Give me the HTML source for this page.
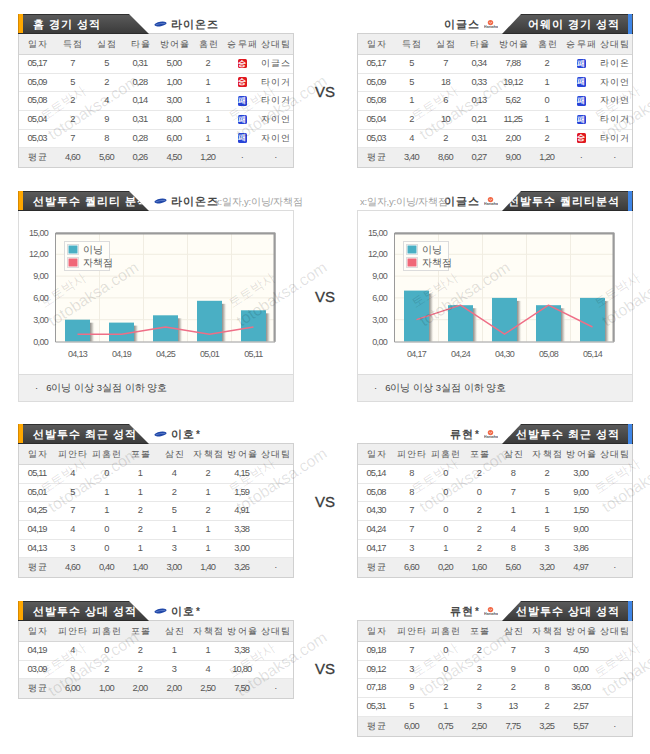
<!DOCTYPE html>
<html><head><meta charset="utf-8"><title>Starting pitcher stats</title>
<style>
*{margin:0;padding:0;box-sizing:border-box}
html,body{width:650px;height:754px;overflow:hidden;background:#fff}
body{position:relative;font-family:"Liberation Sans",sans-serif;color:#444}
.hl,.hr{position:absolute;height:20px;color:#fff;font-weight:bold;font-size:11px;line-height:20px;
 background:linear-gradient(#2f2f2f 0,#2f2f2f 1px,#5a5a5a 1px,#3b3b3b 19px,#2b2b2b 19px)}
.hl{left:18px;width:131px;clip-path:polygon(0 0,111px 0,131px 100%,0 100%)}
.hl:before{content:"";position:absolute;left:0;top:0;width:5px;height:19px;background:#ffa700;box-shadow:inset 1px 0 0 #d88a00}
.hl span{position:absolute;left:15px;top:0;white-space:nowrap;letter-spacing:1px}
.hr{left:502px;width:131px;clip-path:polygon(19px 0,131px 0,131px 100%,0 100%)}
.hr:after{content:"";position:absolute;right:1px;top:0;width:4px;height:20px;background:#3f86e6}
.hr span{position:absolute;right:13px;top:0;white-space:nowrap;letter-spacing:1px}
.tb{position:absolute;width:276px;border:1px solid #d0d0d0;background:#fff}
.hrw{position:absolute;width:274px;background:#efefef}
.avg{position:absolute;width:274px;background:#efefef}
.ln{position:absolute;width:274px;height:1px;background:#e8e8e8}
.ln2{position:absolute;width:274px;height:1px;background:#d6d6d6}
.c{position:absolute;width:40px;text-align:center;font-size:9.3px;color:#555;white-space:nowrap;letter-spacing:-0.8px;text-indent:-0.8px}
.c.th{color:#555}
.c.k{letter-spacing:1.2px;text-indent:1.2px}
.bw,.bl{display:inline-block;width:9px;height:9.5px;border-radius:1.5px;font-style:normal;color:#fff;font-size:8px;font-weight:bold;line-height:9.5px;text-align:center;vertical-align:middle;letter-spacing:0;margin-top:0;position:relative;left:0.5px;top:0}
.bw{background:#e01820}
.bl{background:#2844d8}
.vs{position:absolute;left:315px;width:22px;font-size:15px;color:#3a3a3a;line-height:15px;letter-spacing:0;-webkit-text-stroke:0.3px #3a3a3a}
.lg{position:absolute}
.tn{position:absolute;height:14px;font-size:10.5px;line-height:14px;color:#474747;font-weight:bold;white-space:nowrap;letter-spacing:1px}
.tn small{font-size:10px;font-weight:bold;vertical-align:0;margin-left:1px}
.xy{position:absolute;height:13px;line-height:13px;color:#a0a0a0;font-size:9.5px;white-space:nowrap;letter-spacing:-0.2px}
.cb{position:absolute;width:276px;height:192px;border:1px solid #dcdcdc;background:#fff}
.ch{position:absolute;overflow:visible}
.yl{font-family:"Liberation Sans",sans-serif;font-size:9px;fill:#606060;letter-spacing:-0.7px}
.lt{font-family:"Liberation Sans",sans-serif;font-size:9.5px;fill:#555}
.cf{position:absolute;width:276px;height:28px;border:1px solid #dcdcdc;background:#f0f0f0;font-size:9.5px;line-height:26px;color:#444;padding-left:16px}
.cf .dot{margin-right:8px}
.wmk{position:absolute;left:0;top:0;pointer-events:none}
.w1,.w2{font-family:"Liberation Sans",sans-serif;font-size:16px;fill:#000;fill-opacity:0.12}
.w1{font-size:13px}
</style></head>
<body>
<div class="tb" style="left:18px;top:33px;height:135.35px"></div>
<div class="hrw" style="left:19px;top:34px;height:20px"></div>
<div class="ln2" style="left:19px;top:54px"></div>
<div class="c th k" style="left:17.50px;top:34px;height:20px;line-height:20px">일자</div>
<div class="c th k" style="left:52.80px;top:34px;height:20px;line-height:20px">득점</div>
<div class="c th k" style="left:86.80px;top:34px;height:20px;line-height:20px">실점</div>
<div class="c th k" style="left:120.30px;top:34px;height:20px;line-height:20px">타율</div>
<div class="c th k" style="left:154.30px;top:34px;height:20px;line-height:20px">방어율</div>
<div class="c th k" style="left:188.20px;top:34px;height:20px;line-height:20px">홈런</div>
<div class="c th k" style="left:222.20px;top:34px;height:20px;line-height:20px">승무패</div>
<div class="c th k" style="left:255.70px;top:34px;height:20px;line-height:20px">상대팀</div>
<div class="c" style="left:17.50px;top:55.00px;height:17.67px;line-height:17.67px">05,17</div>
<div class="c" style="left:52.80px;top:55.00px;height:17.67px;line-height:17.67px">7</div>
<div class="c" style="left:86.80px;top:55.00px;height:17.67px;line-height:17.67px">5</div>
<div class="c" style="left:120.30px;top:55.00px;height:17.67px;line-height:17.67px">0,31</div>
<div class="c" style="left:154.30px;top:55.00px;height:17.67px;line-height:17.67px">5,00</div>
<div class="c" style="left:188.20px;top:55.00px;height:17.67px;line-height:17.67px">2</div>
<div class="c" style="left:222.20px;top:55.00px;height:17.67px;line-height:17.67px"><i class="bw">승</i></div>
<div class="c k" style="left:255.70px;top:55.00px;height:17.67px;line-height:17.67px">이글스</div>
<div class="ln" style="left:19px;top:72.67px"></div>
<div class="c" style="left:17.50px;top:73.67px;height:17.67px;line-height:17.67px">05,09</div>
<div class="c" style="left:52.80px;top:73.67px;height:17.67px;line-height:17.67px">5</div>
<div class="c" style="left:86.80px;top:73.67px;height:17.67px;line-height:17.67px">2</div>
<div class="c" style="left:120.30px;top:73.67px;height:17.67px;line-height:17.67px">0,28</div>
<div class="c" style="left:154.30px;top:73.67px;height:17.67px;line-height:17.67px">1,00</div>
<div class="c" style="left:188.20px;top:73.67px;height:17.67px;line-height:17.67px">1</div>
<div class="c" style="left:222.20px;top:73.67px;height:17.67px;line-height:17.67px"><i class="bw">승</i></div>
<div class="c k" style="left:255.70px;top:73.67px;height:17.67px;line-height:17.67px">타이거</div>
<div class="ln" style="left:19px;top:91.34px"></div>
<div class="c" style="left:17.50px;top:92.34px;height:17.67px;line-height:17.67px">05,08</div>
<div class="c" style="left:52.80px;top:92.34px;height:17.67px;line-height:17.67px">2</div>
<div class="c" style="left:86.80px;top:92.34px;height:17.67px;line-height:17.67px">4</div>
<div class="c" style="left:120.30px;top:92.34px;height:17.67px;line-height:17.67px">0,14</div>
<div class="c" style="left:154.30px;top:92.34px;height:17.67px;line-height:17.67px">3,00</div>
<div class="c" style="left:188.20px;top:92.34px;height:17.67px;line-height:17.67px">1</div>
<div class="c" style="left:222.20px;top:92.34px;height:17.67px;line-height:17.67px"><i class="bl">패</i></div>
<div class="c k" style="left:255.70px;top:92.34px;height:17.67px;line-height:17.67px">타이거</div>
<div class="ln" style="left:19px;top:110.01px"></div>
<div class="c" style="left:17.50px;top:111.01px;height:17.67px;line-height:17.67px">05,04</div>
<div class="c" style="left:52.80px;top:111.01px;height:17.67px;line-height:17.67px">2</div>
<div class="c" style="left:86.80px;top:111.01px;height:17.67px;line-height:17.67px">9</div>
<div class="c" style="left:120.30px;top:111.01px;height:17.67px;line-height:17.67px">0,31</div>
<div class="c" style="left:154.30px;top:111.01px;height:17.67px;line-height:17.67px">8,00</div>
<div class="c" style="left:188.20px;top:111.01px;height:17.67px;line-height:17.67px">1</div>
<div class="c" style="left:222.20px;top:111.01px;height:17.67px;line-height:17.67px"><i class="bl">패</i></div>
<div class="c k" style="left:255.70px;top:111.01px;height:17.67px;line-height:17.67px">자이언</div>
<div class="ln" style="left:19px;top:128.68px"></div>
<div class="c" style="left:17.50px;top:129.68px;height:17.67px;line-height:17.67px">05,03</div>
<div class="c" style="left:52.80px;top:129.68px;height:17.67px;line-height:17.67px">7</div>
<div class="c" style="left:86.80px;top:129.68px;height:17.67px;line-height:17.67px">8</div>
<div class="c" style="left:120.30px;top:129.68px;height:17.67px;line-height:17.67px">0,28</div>
<div class="c" style="left:154.30px;top:129.68px;height:17.67px;line-height:17.67px">6,00</div>
<div class="c" style="left:188.20px;top:129.68px;height:17.67px;line-height:17.67px">1</div>
<div class="c" style="left:222.20px;top:129.68px;height:17.67px;line-height:17.67px"><i class="bl">패</i></div>
<div class="c k" style="left:255.70px;top:129.68px;height:17.67px;line-height:17.67px">자이언</div>
<div class="ln" style="left:19px;top:147.35px"></div>
<div class="avg" style="left:19px;top:148.35px;height:19.00px"></div>
<div class="c k" style="left:17.50px;top:148.35px;height:19.00px;line-height:19.00px">평균</div>
<div class="c" style="left:52.80px;top:148.35px;height:19.00px;line-height:19.00px">4,60</div>
<div class="c" style="left:86.80px;top:148.35px;height:19.00px;line-height:19.00px">5,60</div>
<div class="c" style="left:120.30px;top:148.35px;height:19.00px;line-height:19.00px">0,26</div>
<div class="c" style="left:154.30px;top:148.35px;height:19.00px;line-height:19.00px">4,50</div>
<div class="c" style="left:188.20px;top:148.35px;height:19.00px;line-height:19.00px">1,20</div>
<div class="c" style="left:222.20px;top:148.35px;height:19.00px;line-height:19.00px">·</div>
<div class="c" style="left:255.70px;top:148.35px;height:19.00px;line-height:19.00px">·</div>
<div class="tb" style="left:357px;top:33px;height:135.35px"></div>
<div class="hrw" style="left:358px;top:34px;height:20px"></div>
<div class="ln2" style="left:358px;top:54px"></div>
<div class="c th k" style="left:356.50px;top:34px;height:20px;line-height:20px">일자</div>
<div class="c th k" style="left:391.80px;top:34px;height:20px;line-height:20px">득점</div>
<div class="c th k" style="left:425.80px;top:34px;height:20px;line-height:20px">실점</div>
<div class="c th k" style="left:459.30px;top:34px;height:20px;line-height:20px">타율</div>
<div class="c th k" style="left:493.30px;top:34px;height:20px;line-height:20px">방어율</div>
<div class="c th k" style="left:527.20px;top:34px;height:20px;line-height:20px">홈런</div>
<div class="c th k" style="left:561.20px;top:34px;height:20px;line-height:20px">승무패</div>
<div class="c th k" style="left:594.70px;top:34px;height:20px;line-height:20px">상대팀</div>
<div class="c" style="left:356.50px;top:55.00px;height:17.67px;line-height:17.67px">05,17</div>
<div class="c" style="left:391.80px;top:55.00px;height:17.67px;line-height:17.67px">5</div>
<div class="c" style="left:425.80px;top:55.00px;height:17.67px;line-height:17.67px">7</div>
<div class="c" style="left:459.30px;top:55.00px;height:17.67px;line-height:17.67px">0,34</div>
<div class="c" style="left:493.30px;top:55.00px;height:17.67px;line-height:17.67px">7,88</div>
<div class="c" style="left:527.20px;top:55.00px;height:17.67px;line-height:17.67px">2</div>
<div class="c" style="left:561.20px;top:55.00px;height:17.67px;line-height:17.67px"><i class="bl">패</i></div>
<div class="c k" style="left:594.70px;top:55.00px;height:17.67px;line-height:17.67px">라이온</div>
<div class="ln" style="left:358px;top:72.67px"></div>
<div class="c" style="left:356.50px;top:73.67px;height:17.67px;line-height:17.67px">05,09</div>
<div class="c" style="left:391.80px;top:73.67px;height:17.67px;line-height:17.67px">5</div>
<div class="c" style="left:425.80px;top:73.67px;height:17.67px;line-height:17.67px">18</div>
<div class="c" style="left:459.30px;top:73.67px;height:17.67px;line-height:17.67px">0,33</div>
<div class="c" style="left:493.30px;top:73.67px;height:17.67px;line-height:17.67px">19,12</div>
<div class="c" style="left:527.20px;top:73.67px;height:17.67px;line-height:17.67px">1</div>
<div class="c" style="left:561.20px;top:73.67px;height:17.67px;line-height:17.67px"><i class="bl">패</i></div>
<div class="c k" style="left:594.70px;top:73.67px;height:17.67px;line-height:17.67px">자이언</div>
<div class="ln" style="left:358px;top:91.34px"></div>
<div class="c" style="left:356.50px;top:92.34px;height:17.67px;line-height:17.67px">05,08</div>
<div class="c" style="left:391.80px;top:92.34px;height:17.67px;line-height:17.67px">1</div>
<div class="c" style="left:425.80px;top:92.34px;height:17.67px;line-height:17.67px">6</div>
<div class="c" style="left:459.30px;top:92.34px;height:17.67px;line-height:17.67px">0,13</div>
<div class="c" style="left:493.30px;top:92.34px;height:17.67px;line-height:17.67px">5,62</div>
<div class="c" style="left:527.20px;top:92.34px;height:17.67px;line-height:17.67px">0</div>
<div class="c" style="left:561.20px;top:92.34px;height:17.67px;line-height:17.67px"><i class="bl">패</i></div>
<div class="c k" style="left:594.70px;top:92.34px;height:17.67px;line-height:17.67px">자이언</div>
<div class="ln" style="left:358px;top:110.01px"></div>
<div class="c" style="left:356.50px;top:111.01px;height:17.67px;line-height:17.67px">05,04</div>
<div class="c" style="left:391.80px;top:111.01px;height:17.67px;line-height:17.67px">2</div>
<div class="c" style="left:425.80px;top:111.01px;height:17.67px;line-height:17.67px">10</div>
<div class="c" style="left:459.30px;top:111.01px;height:17.67px;line-height:17.67px">0,21</div>
<div class="c" style="left:493.30px;top:111.01px;height:17.67px;line-height:17.67px">11,25</div>
<div class="c" style="left:527.20px;top:111.01px;height:17.67px;line-height:17.67px">1</div>
<div class="c" style="left:561.20px;top:111.01px;height:17.67px;line-height:17.67px"><i class="bl">패</i></div>
<div class="c k" style="left:594.70px;top:111.01px;height:17.67px;line-height:17.67px">타이거</div>
<div class="ln" style="left:358px;top:128.68px"></div>
<div class="c" style="left:356.50px;top:129.68px;height:17.67px;line-height:17.67px">05,03</div>
<div class="c" style="left:391.80px;top:129.68px;height:17.67px;line-height:17.67px">4</div>
<div class="c" style="left:425.80px;top:129.68px;height:17.67px;line-height:17.67px">2</div>
<div class="c" style="left:459.30px;top:129.68px;height:17.67px;line-height:17.67px">0,31</div>
<div class="c" style="left:493.30px;top:129.68px;height:17.67px;line-height:17.67px">2,00</div>
<div class="c" style="left:527.20px;top:129.68px;height:17.67px;line-height:17.67px">2</div>
<div class="c" style="left:561.20px;top:129.68px;height:17.67px;line-height:17.67px"><i class="bw">승</i></div>
<div class="c k" style="left:594.70px;top:129.68px;height:17.67px;line-height:17.67px">타이거</div>
<div class="ln" style="left:358px;top:147.35px"></div>
<div class="avg" style="left:358px;top:148.35px;height:19.00px"></div>
<div class="c k" style="left:356.50px;top:148.35px;height:19.00px;line-height:19.00px">평균</div>
<div class="c" style="left:391.80px;top:148.35px;height:19.00px;line-height:19.00px">3,40</div>
<div class="c" style="left:425.80px;top:148.35px;height:19.00px;line-height:19.00px">8,60</div>
<div class="c" style="left:459.30px;top:148.35px;height:19.00px;line-height:19.00px">0,27</div>
<div class="c" style="left:493.30px;top:148.35px;height:19.00px;line-height:19.00px">9,00</div>
<div class="c" style="left:527.20px;top:148.35px;height:19.00px;line-height:19.00px">1,20</div>
<div class="c" style="left:561.20px;top:148.35px;height:19.00px;line-height:19.00px">·</div>
<div class="c" style="left:594.70px;top:148.35px;height:19.00px;line-height:19.00px">·</div>
<div class="hl" style="top:14px"><span>홈 경기 성적</span></div>
<div class="hr" style="top:14px"><span>어웨이 경기 성적</span></div>
<svg class="lg" style="left:154px;top:21px" width="13" height="6" viewBox="0 0 13 6"><ellipse cx="6.5" cy="3" rx="6.1" ry="2.2" transform="rotate(-9 6.5 3)" fill="#1f47a8"/><path d="M1.8 3.9 Q6 2.2 11.2 2.3" stroke="#7d98d8" stroke-width="0.6" fill="none"/></svg><div class="tn" style="left:171px;top:17px">라이온즈</div>
<div class="tn tr" style="right:170px;top:17px">이글스</div><svg class="lg" style="left:484px;top:19px" width="14" height="10" viewBox="0 0 14 10"><circle cx="6.5" cy="3.6" r="2.7" fill="#f26a48"/><path d="M5.2 3.2 Q6.5 5.2 8 3.0" stroke="#fff" stroke-width="0.7" fill="none" opacity=".8"/><text x="7" y="9.3" text-anchor="middle" font-size="3.6" font-family="Liberation Sans" fill="#555" font-weight="bold">Hanwha</text></svg>
<div class="cb" style="left:18px;top:210px"></div>
<svg class="ch" style="left:18px;top:210px" width="276" height="192" viewBox="18 210 276 192">
<defs><linearGradient id="sh18" x1="0" x2="1" y1="0" y2="0"><stop offset="0" stop-color="#8f8d89"/><stop offset="0.45" stop-color="#c9c6bf"/><stop offset="1" stop-color="#fffdf6" stop-opacity="0"/></linearGradient></defs>
<rect x="55.5" y="233" width="219.5" height="108.5" fill="#fffdf6"/>
<line x1="56" x2="274" y1="319.7" y2="319.7" stroke="#f1ede2" stroke-width="1"/>
<line x1="56" x2="274" y1="297.9" y2="297.9" stroke="#f1ede2" stroke-width="1"/>
<line x1="56" x2="274" y1="276.1" y2="276.1" stroke="#f1ede2" stroke-width="1"/>
<line x1="56" x2="274" y1="254.3" y2="254.3" stroke="#f1ede2" stroke-width="1"/>
<line x1="99.5" x2="99.5" y1="234" y2="341.5" stroke="#f1ede2" stroke-width="1"/>
<line x1="143.5" x2="143.5" y1="234" y2="341.5" stroke="#f1ede2" stroke-width="1"/>
<line x1="187.5" x2="187.5" y1="234" y2="341.5" stroke="#f1ede2" stroke-width="1"/>
<line x1="231.5" x2="231.5" y1="234" y2="341.5" stroke="#f1ede2" stroke-width="1"/>
<rect x="90.0" y="322.7" width="5" height="18.8" fill="url(#sh18)"/>
<rect x="65.0" y="319.7" width="25" height="21.8" fill="#4aafc4"/>
<rect x="134.0" y="325.6" width="5" height="15.9" fill="url(#sh18)"/>
<rect x="109.0" y="322.6" width="25" height="18.9" fill="#4aafc4"/>
<rect x="178.0" y="318.3" width="5" height="23.2" fill="url(#sh18)"/>
<rect x="153.0" y="315.3" width="25" height="26.2" fill="#4aafc4"/>
<rect x="222.0" y="303.8" width="5" height="37.7" fill="url(#sh18)"/>
<rect x="197.0" y="300.8" width="25" height="40.7" fill="#4aafc4"/>
<rect x="266.0" y="313.3" width="5" height="28.2" fill="url(#sh18)"/>
<rect x="241.0" y="310.3" width="25" height="31.2" fill="#4aafc4"/>
<polyline points="77.5,334.2 121.5,334.2 165.5,327.0 209.5,334.2 253.5,327.0" fill="none" stroke="#ef6e86" stroke-width="1.4" stroke-linejoin="round"/>
<path d="M55.5 342.0 V233 H275 V342.0 Z" fill="none" stroke="#9a9a9a" stroke-width="1"/>
<path d="M56 233.5 H274.5 V341.5" fill="none" stroke="#9a9a9a" stroke-width="2"/>
<text x="48" y="344.5" text-anchor="end" class="yl">0,00</text>
<text x="48" y="322.7" text-anchor="end" class="yl">3,00</text>
<text x="48" y="300.9" text-anchor="end" class="yl">6,00</text>
<text x="48" y="279.1" text-anchor="end" class="yl">9,00</text>
<text x="48" y="257.3" text-anchor="end" class="yl">12,00</text>
<text x="48" y="235.5" text-anchor="end" class="yl">15,00</text>
<text x="77.5" y="357" text-anchor="middle" class="yl">04,13</text>
<text x="121.5" y="357" text-anchor="middle" class="yl">04,19</text>
<text x="165.5" y="357" text-anchor="middle" class="yl">04,25</text>
<text x="209.5" y="357" text-anchor="middle" class="yl">05,01</text>
<text x="253.5" y="357" text-anchor="middle" class="yl">05,11</text>
<rect x="64.5" y="241.5" width="45" height="29" fill="#fffef9" stroke="#dcdcdc"/>
<rect x="67.5" y="244.5" width="11" height="10" fill="#fff" stroke="#ddd"/>
<rect x="68.5" y="245.5" width="9" height="8" fill="#4aafc4"/>
<rect x="67.5" y="257.5" width="11" height="10" fill="#fff" stroke="#ddd"/>
<rect x="68.5" y="258.5" width="9" height="8" fill="#f06878"/>
<text x="82.5" y="253.0" class="lt">이닝</text>
<text x="82.5" y="266.0" class="lt">자책점</text>
</svg>
<div class="cf" style="left:18px;top:374px"><span class="dot">·</span>6이닝 이상 3실점 이하 양호</div>
<div class="cb" style="left:357px;top:210px"></div>
<svg class="ch" style="left:357px;top:210px" width="276" height="192" viewBox="357 210 276 192">
<defs><linearGradient id="sh357" x1="0" x2="1" y1="0" y2="0"><stop offset="0" stop-color="#8f8d89"/><stop offset="0.45" stop-color="#c9c6bf"/><stop offset="1" stop-color="#fffdf6" stop-opacity="0"/></linearGradient></defs>
<rect x="394.5" y="233" width="219.5" height="108.5" fill="#fffdf6"/>
<line x1="395" x2="613" y1="319.7" y2="319.7" stroke="#f1ede2" stroke-width="1"/>
<line x1="395" x2="613" y1="297.9" y2="297.9" stroke="#f1ede2" stroke-width="1"/>
<line x1="395" x2="613" y1="276.1" y2="276.1" stroke="#f1ede2" stroke-width="1"/>
<line x1="395" x2="613" y1="254.3" y2="254.3" stroke="#f1ede2" stroke-width="1"/>
<line x1="438.5" x2="438.5" y1="234" y2="341.5" stroke="#f1ede2" stroke-width="1"/>
<line x1="482.5" x2="482.5" y1="234" y2="341.5" stroke="#f1ede2" stroke-width="1"/>
<line x1="526.5" x2="526.5" y1="234" y2="341.5" stroke="#f1ede2" stroke-width="1"/>
<line x1="570.5" x2="570.5" y1="234" y2="341.5" stroke="#f1ede2" stroke-width="1"/>
<rect x="429.0" y="293.6" width="5" height="47.9" fill="url(#sh357)"/>
<rect x="404.0" y="290.6" width="25" height="50.9" fill="#4aafc4"/>
<rect x="473.0" y="308.2" width="5" height="33.3" fill="url(#sh357)"/>
<rect x="448.0" y="305.2" width="25" height="36.3" fill="#4aafc4"/>
<rect x="517.0" y="300.9" width="5" height="40.6" fill="url(#sh357)"/>
<rect x="492.0" y="297.9" width="25" height="43.6" fill="#4aafc4"/>
<rect x="561.0" y="308.2" width="5" height="33.3" fill="url(#sh357)"/>
<rect x="536.0" y="305.2" width="25" height="36.3" fill="#4aafc4"/>
<rect x="605.0" y="300.9" width="5" height="40.6" fill="url(#sh357)"/>
<rect x="580.0" y="297.9" width="25" height="43.6" fill="#4aafc4"/>
<polyline points="416.5,319.7 460.5,305.2 504.5,334.2 548.5,305.2 592.5,327.0" fill="none" stroke="#ef6e86" stroke-width="1.4" stroke-linejoin="round"/>
<path d="M394.5 342.0 V233 H614 V342.0 Z" fill="none" stroke="#9a9a9a" stroke-width="1"/>
<path d="M395 233.5 H613.5 V341.5" fill="none" stroke="#9a9a9a" stroke-width="2"/>
<text x="387" y="344.5" text-anchor="end" class="yl">0,00</text>
<text x="387" y="322.7" text-anchor="end" class="yl">3,00</text>
<text x="387" y="300.9" text-anchor="end" class="yl">6,00</text>
<text x="387" y="279.1" text-anchor="end" class="yl">9,00</text>
<text x="387" y="257.3" text-anchor="end" class="yl">12,00</text>
<text x="387" y="235.5" text-anchor="end" class="yl">15,00</text>
<text x="416.5" y="357" text-anchor="middle" class="yl">04,17</text>
<text x="460.5" y="357" text-anchor="middle" class="yl">04,24</text>
<text x="504.5" y="357" text-anchor="middle" class="yl">04,30</text>
<text x="548.5" y="357" text-anchor="middle" class="yl">05,08</text>
<text x="592.5" y="357" text-anchor="middle" class="yl">05,14</text>
<rect x="403.5" y="241.5" width="45" height="29" fill="#fffef9" stroke="#dcdcdc"/>
<rect x="406.5" y="244.5" width="11" height="10" fill="#fff" stroke="#ddd"/>
<rect x="407.5" y="245.5" width="9" height="8" fill="#4aafc4"/>
<rect x="406.5" y="257.5" width="11" height="10" fill="#fff" stroke="#ddd"/>
<rect x="407.5" y="258.5" width="9" height="8" fill="#f06878"/>
<text x="421.5" y="253.0" class="lt">이닝</text>
<text x="421.5" y="266.0" class="lt">자책점</text>
</svg>
<div class="cf" style="left:357px;top:374px"><span class="dot">·</span>6이닝 이상 3실점 이하 양호</div>
<div class="hl" style="top:191px"><span>선발투수 퀄리티 분석</span></div>
<div class="hr" style="top:191px"><span>선발투수 퀄리티분석</span></div>
<svg class="lg" style="left:154px;top:198px" width="13" height="6" viewBox="0 0 13 6"><ellipse cx="6.5" cy="3" rx="6.1" ry="2.2" transform="rotate(-9 6.5 3)" fill="#1f47a8"/><path d="M1.8 3.9 Q6 2.2 11.2 2.3" stroke="#7d98d8" stroke-width="0.6" fill="none"/></svg><div class="tn" style="left:171px;top:194px">라이온즈</div><div class="xy" style="left:215px;top:195px">x:일자,y:이닝/자책점</div>
<div class="tn tr" style="right:170px;top:194px">이글스</div><svg class="lg" style="left:484px;top:196px" width="14" height="10" viewBox="0 0 14 10"><circle cx="6.5" cy="3.6" r="2.7" fill="#f26a48"/><path d="M5.2 3.2 Q6.5 5.2 8 3.0" stroke="#fff" stroke-width="0.7" fill="none" opacity=".8"/><text x="7" y="9.3" text-anchor="middle" font-size="3.6" font-family="Liberation Sans" fill="#555" font-weight="bold">Hanwha</text></svg><div class="xy" style="left:360px;top:195px">x:일자,y:이닝/자책점</div>
<div class="tb" style="left:18px;top:443px;height:135.35px"></div>
<div class="hrw" style="left:19px;top:444px;height:20px"></div>
<div class="ln2" style="left:19px;top:464px"></div>
<div class="c th k" style="left:17.50px;top:444px;height:20px;line-height:20px">일자</div>
<div class="c th k" style="left:52.80px;top:444px;height:20px;line-height:20px">피안타</div>
<div class="c th k" style="left:86.80px;top:444px;height:20px;line-height:20px">피홈런</div>
<div class="c th k" style="left:120.30px;top:444px;height:20px;line-height:20px">포볼</div>
<div class="c th k" style="left:154.30px;top:444px;height:20px;line-height:20px">삼진</div>
<div class="c th k" style="left:188.20px;top:444px;height:20px;line-height:20px">자책점</div>
<div class="c th k" style="left:222.20px;top:444px;height:20px;line-height:20px">방어율</div>
<div class="c th k" style="left:255.70px;top:444px;height:20px;line-height:20px">상대팀</div>
<div class="c" style="left:17.50px;top:465.00px;height:17.67px;line-height:17.67px">05,11</div>
<div class="c" style="left:52.80px;top:465.00px;height:17.67px;line-height:17.67px">4</div>
<div class="c" style="left:86.80px;top:465.00px;height:17.67px;line-height:17.67px">0</div>
<div class="c" style="left:120.30px;top:465.00px;height:17.67px;line-height:17.67px">1</div>
<div class="c" style="left:154.30px;top:465.00px;height:17.67px;line-height:17.67px">4</div>
<div class="c" style="left:188.20px;top:465.00px;height:17.67px;line-height:17.67px">2</div>
<div class="c" style="left:222.20px;top:465.00px;height:17.67px;line-height:17.67px">4,15</div>
<div class="ln" style="left:19px;top:482.67px"></div>
<div class="c" style="left:17.50px;top:483.67px;height:17.67px;line-height:17.67px">05,01</div>
<div class="c" style="left:52.80px;top:483.67px;height:17.67px;line-height:17.67px">5</div>
<div class="c" style="left:86.80px;top:483.67px;height:17.67px;line-height:17.67px">1</div>
<div class="c" style="left:120.30px;top:483.67px;height:17.67px;line-height:17.67px">1</div>
<div class="c" style="left:154.30px;top:483.67px;height:17.67px;line-height:17.67px">2</div>
<div class="c" style="left:188.20px;top:483.67px;height:17.67px;line-height:17.67px">1</div>
<div class="c" style="left:222.20px;top:483.67px;height:17.67px;line-height:17.67px">1,59</div>
<div class="ln" style="left:19px;top:501.34px"></div>
<div class="c" style="left:17.50px;top:502.34px;height:17.67px;line-height:17.67px">04,25</div>
<div class="c" style="left:52.80px;top:502.34px;height:17.67px;line-height:17.67px">7</div>
<div class="c" style="left:86.80px;top:502.34px;height:17.67px;line-height:17.67px">1</div>
<div class="c" style="left:120.30px;top:502.34px;height:17.67px;line-height:17.67px">2</div>
<div class="c" style="left:154.30px;top:502.34px;height:17.67px;line-height:17.67px">5</div>
<div class="c" style="left:188.20px;top:502.34px;height:17.67px;line-height:17.67px">2</div>
<div class="c" style="left:222.20px;top:502.34px;height:17.67px;line-height:17.67px">4,91</div>
<div class="ln" style="left:19px;top:520.01px"></div>
<div class="c" style="left:17.50px;top:521.01px;height:17.67px;line-height:17.67px">04,19</div>
<div class="c" style="left:52.80px;top:521.01px;height:17.67px;line-height:17.67px">4</div>
<div class="c" style="left:86.80px;top:521.01px;height:17.67px;line-height:17.67px">0</div>
<div class="c" style="left:120.30px;top:521.01px;height:17.67px;line-height:17.67px">2</div>
<div class="c" style="left:154.30px;top:521.01px;height:17.67px;line-height:17.67px">1</div>
<div class="c" style="left:188.20px;top:521.01px;height:17.67px;line-height:17.67px">1</div>
<div class="c" style="left:222.20px;top:521.01px;height:17.67px;line-height:17.67px">3,38</div>
<div class="ln" style="left:19px;top:538.68px"></div>
<div class="c" style="left:17.50px;top:539.68px;height:17.67px;line-height:17.67px">04,13</div>
<div class="c" style="left:52.80px;top:539.68px;height:17.67px;line-height:17.67px">3</div>
<div class="c" style="left:86.80px;top:539.68px;height:17.67px;line-height:17.67px">0</div>
<div class="c" style="left:120.30px;top:539.68px;height:17.67px;line-height:17.67px">1</div>
<div class="c" style="left:154.30px;top:539.68px;height:17.67px;line-height:17.67px">3</div>
<div class="c" style="left:188.20px;top:539.68px;height:17.67px;line-height:17.67px">1</div>
<div class="c" style="left:222.20px;top:539.68px;height:17.67px;line-height:17.67px">3,00</div>
<div class="ln" style="left:19px;top:557.35px"></div>
<div class="avg" style="left:19px;top:558.35px;height:19.00px"></div>
<div class="c k" style="left:17.50px;top:558.35px;height:19.00px;line-height:19.00px">평균</div>
<div class="c" style="left:52.80px;top:558.35px;height:19.00px;line-height:19.00px">4,60</div>
<div class="c" style="left:86.80px;top:558.35px;height:19.00px;line-height:19.00px">0,40</div>
<div class="c" style="left:120.30px;top:558.35px;height:19.00px;line-height:19.00px">1,40</div>
<div class="c" style="left:154.30px;top:558.35px;height:19.00px;line-height:19.00px">3,00</div>
<div class="c" style="left:188.20px;top:558.35px;height:19.00px;line-height:19.00px">1,40</div>
<div class="c" style="left:222.20px;top:558.35px;height:19.00px;line-height:19.00px">3,26</div>
<div class="c" style="left:255.70px;top:558.35px;height:19.00px;line-height:19.00px">·</div>
<div class="tb" style="left:357px;top:443px;height:135.35px"></div>
<div class="hrw" style="left:358px;top:444px;height:20px"></div>
<div class="ln2" style="left:358px;top:464px"></div>
<div class="c th k" style="left:356.50px;top:444px;height:20px;line-height:20px">일자</div>
<div class="c th k" style="left:391.80px;top:444px;height:20px;line-height:20px">피안타</div>
<div class="c th k" style="left:425.80px;top:444px;height:20px;line-height:20px">피홈런</div>
<div class="c th k" style="left:459.30px;top:444px;height:20px;line-height:20px">포볼</div>
<div class="c th k" style="left:493.30px;top:444px;height:20px;line-height:20px">삼진</div>
<div class="c th k" style="left:527.20px;top:444px;height:20px;line-height:20px">자책점</div>
<div class="c th k" style="left:561.20px;top:444px;height:20px;line-height:20px">방어율</div>
<div class="c th k" style="left:594.70px;top:444px;height:20px;line-height:20px">상대팀</div>
<div class="c" style="left:356.50px;top:465.00px;height:17.67px;line-height:17.67px">05,14</div>
<div class="c" style="left:391.80px;top:465.00px;height:17.67px;line-height:17.67px">8</div>
<div class="c" style="left:425.80px;top:465.00px;height:17.67px;line-height:17.67px">0</div>
<div class="c" style="left:459.30px;top:465.00px;height:17.67px;line-height:17.67px">2</div>
<div class="c" style="left:493.30px;top:465.00px;height:17.67px;line-height:17.67px">8</div>
<div class="c" style="left:527.20px;top:465.00px;height:17.67px;line-height:17.67px">2</div>
<div class="c" style="left:561.20px;top:465.00px;height:17.67px;line-height:17.67px">3,00</div>
<div class="ln" style="left:358px;top:482.67px"></div>
<div class="c" style="left:356.50px;top:483.67px;height:17.67px;line-height:17.67px">05,08</div>
<div class="c" style="left:391.80px;top:483.67px;height:17.67px;line-height:17.67px">8</div>
<div class="c" style="left:425.80px;top:483.67px;height:17.67px;line-height:17.67px">0</div>
<div class="c" style="left:459.30px;top:483.67px;height:17.67px;line-height:17.67px">0</div>
<div class="c" style="left:493.30px;top:483.67px;height:17.67px;line-height:17.67px">7</div>
<div class="c" style="left:527.20px;top:483.67px;height:17.67px;line-height:17.67px">5</div>
<div class="c" style="left:561.20px;top:483.67px;height:17.67px;line-height:17.67px">9,00</div>
<div class="ln" style="left:358px;top:501.34px"></div>
<div class="c" style="left:356.50px;top:502.34px;height:17.67px;line-height:17.67px">04,30</div>
<div class="c" style="left:391.80px;top:502.34px;height:17.67px;line-height:17.67px">7</div>
<div class="c" style="left:425.80px;top:502.34px;height:17.67px;line-height:17.67px">0</div>
<div class="c" style="left:459.30px;top:502.34px;height:17.67px;line-height:17.67px">2</div>
<div class="c" style="left:493.30px;top:502.34px;height:17.67px;line-height:17.67px">1</div>
<div class="c" style="left:527.20px;top:502.34px;height:17.67px;line-height:17.67px">1</div>
<div class="c" style="left:561.20px;top:502.34px;height:17.67px;line-height:17.67px">1,50</div>
<div class="ln" style="left:358px;top:520.01px"></div>
<div class="c" style="left:356.50px;top:521.01px;height:17.67px;line-height:17.67px">04,24</div>
<div class="c" style="left:391.80px;top:521.01px;height:17.67px;line-height:17.67px">7</div>
<div class="c" style="left:425.80px;top:521.01px;height:17.67px;line-height:17.67px">0</div>
<div class="c" style="left:459.30px;top:521.01px;height:17.67px;line-height:17.67px">2</div>
<div class="c" style="left:493.30px;top:521.01px;height:17.67px;line-height:17.67px">4</div>
<div class="c" style="left:527.20px;top:521.01px;height:17.67px;line-height:17.67px">5</div>
<div class="c" style="left:561.20px;top:521.01px;height:17.67px;line-height:17.67px">9,00</div>
<div class="ln" style="left:358px;top:538.68px"></div>
<div class="c" style="left:356.50px;top:539.68px;height:17.67px;line-height:17.67px">04,17</div>
<div class="c" style="left:391.80px;top:539.68px;height:17.67px;line-height:17.67px">3</div>
<div class="c" style="left:425.80px;top:539.68px;height:17.67px;line-height:17.67px">1</div>
<div class="c" style="left:459.30px;top:539.68px;height:17.67px;line-height:17.67px">2</div>
<div class="c" style="left:493.30px;top:539.68px;height:17.67px;line-height:17.67px">8</div>
<div class="c" style="left:527.20px;top:539.68px;height:17.67px;line-height:17.67px">3</div>
<div class="c" style="left:561.20px;top:539.68px;height:17.67px;line-height:17.67px">3,86</div>
<div class="ln" style="left:358px;top:557.35px"></div>
<div class="avg" style="left:358px;top:558.35px;height:19.00px"></div>
<div class="c k" style="left:356.50px;top:558.35px;height:19.00px;line-height:19.00px">평균</div>
<div class="c" style="left:391.80px;top:558.35px;height:19.00px;line-height:19.00px">6,60</div>
<div class="c" style="left:425.80px;top:558.35px;height:19.00px;line-height:19.00px">0,20</div>
<div class="c" style="left:459.30px;top:558.35px;height:19.00px;line-height:19.00px">1,60</div>
<div class="c" style="left:493.30px;top:558.35px;height:19.00px;line-height:19.00px">5,60</div>
<div class="c" style="left:527.20px;top:558.35px;height:19.00px;line-height:19.00px">3,20</div>
<div class="c" style="left:561.20px;top:558.35px;height:19.00px;line-height:19.00px">4,97</div>
<div class="c" style="left:594.70px;top:558.35px;height:19.00px;line-height:19.00px">·</div>
<div class="hl" style="top:424px"><span>선발투수 최근 성적</span></div>
<div class="hr" style="top:424px"><span>선발투수 최근 성적</span></div>
<svg class="lg" style="left:154px;top:431px" width="13" height="6" viewBox="0 0 13 6"><ellipse cx="6.5" cy="3" rx="6.1" ry="2.2" transform="rotate(-9 6.5 3)" fill="#1f47a8"/><path d="M1.8 3.9 Q6 2.2 11.2 2.3" stroke="#7d98d8" stroke-width="0.6" fill="none"/></svg><div class="tn" style="left:171px;top:427px">이호<small>*</small></div>
<div class="tn tr" style="right:170px;top:427px">류현<small>*</small></div><svg class="lg" style="left:484px;top:429px" width="14" height="10" viewBox="0 0 14 10"><circle cx="6.5" cy="3.6" r="2.7" fill="#f26a48"/><path d="M5.2 3.2 Q6.5 5.2 8 3.0" stroke="#fff" stroke-width="0.7" fill="none" opacity=".8"/><text x="7" y="9.3" text-anchor="middle" font-size="3.6" font-family="Liberation Sans" fill="#555" font-weight="bold">Hanwha</text></svg>
<div class="tb" style="left:18px;top:620px;height:79.34px"></div>
<div class="hrw" style="left:19px;top:621px;height:20px"></div>
<div class="ln2" style="left:19px;top:641px"></div>
<div class="c th k" style="left:17.50px;top:621px;height:20px;line-height:20px">일자</div>
<div class="c th k" style="left:52.80px;top:621px;height:20px;line-height:20px">피안타</div>
<div class="c th k" style="left:86.80px;top:621px;height:20px;line-height:20px">피홈런</div>
<div class="c th k" style="left:120.30px;top:621px;height:20px;line-height:20px">포볼</div>
<div class="c th k" style="left:154.30px;top:621px;height:20px;line-height:20px">삼진</div>
<div class="c th k" style="left:188.20px;top:621px;height:20px;line-height:20px">자책점</div>
<div class="c th k" style="left:222.20px;top:621px;height:20px;line-height:20px">방어율</div>
<div class="c th k" style="left:255.70px;top:621px;height:20px;line-height:20px">상대팀</div>
<div class="c" style="left:17.50px;top:642.00px;height:17.67px;line-height:17.67px">04,19</div>
<div class="c" style="left:52.80px;top:642.00px;height:17.67px;line-height:17.67px">4</div>
<div class="c" style="left:86.80px;top:642.00px;height:17.67px;line-height:17.67px">0</div>
<div class="c" style="left:120.30px;top:642.00px;height:17.67px;line-height:17.67px">2</div>
<div class="c" style="left:154.30px;top:642.00px;height:17.67px;line-height:17.67px">1</div>
<div class="c" style="left:188.20px;top:642.00px;height:17.67px;line-height:17.67px">1</div>
<div class="c" style="left:222.20px;top:642.00px;height:17.67px;line-height:17.67px">3,38</div>
<div class="ln" style="left:19px;top:659.67px"></div>
<div class="c" style="left:17.50px;top:660.67px;height:17.67px;line-height:17.67px">03,09</div>
<div class="c" style="left:52.80px;top:660.67px;height:17.67px;line-height:17.67px">8</div>
<div class="c" style="left:86.80px;top:660.67px;height:17.67px;line-height:17.67px">2</div>
<div class="c" style="left:120.30px;top:660.67px;height:17.67px;line-height:17.67px">2</div>
<div class="c" style="left:154.30px;top:660.67px;height:17.67px;line-height:17.67px">3</div>
<div class="c" style="left:188.20px;top:660.67px;height:17.67px;line-height:17.67px">4</div>
<div class="c" style="left:222.20px;top:660.67px;height:17.67px;line-height:17.67px">10,80</div>
<div class="ln" style="left:19px;top:678.34px"></div>
<div class="avg" style="left:19px;top:679.34px;height:19.00px"></div>
<div class="c k" style="left:17.50px;top:679.34px;height:19.00px;line-height:19.00px">평균</div>
<div class="c" style="left:52.80px;top:679.34px;height:19.00px;line-height:19.00px">6,00</div>
<div class="c" style="left:86.80px;top:679.34px;height:19.00px;line-height:19.00px">1,00</div>
<div class="c" style="left:120.30px;top:679.34px;height:19.00px;line-height:19.00px">2,00</div>
<div class="c" style="left:154.30px;top:679.34px;height:19.00px;line-height:19.00px">2,00</div>
<div class="c" style="left:188.20px;top:679.34px;height:19.00px;line-height:19.00px">2,50</div>
<div class="c" style="left:222.20px;top:679.34px;height:19.00px;line-height:19.00px">7,50</div>
<div class="c" style="left:255.70px;top:679.34px;height:19.00px;line-height:19.00px">·</div>
<div class="tb" style="left:357px;top:620px;height:116.68px"></div>
<div class="hrw" style="left:358px;top:621px;height:20px"></div>
<div class="ln2" style="left:358px;top:641px"></div>
<div class="c th k" style="left:356.50px;top:621px;height:20px;line-height:20px">일자</div>
<div class="c th k" style="left:391.80px;top:621px;height:20px;line-height:20px">피안타</div>
<div class="c th k" style="left:425.80px;top:621px;height:20px;line-height:20px">피홈런</div>
<div class="c th k" style="left:459.30px;top:621px;height:20px;line-height:20px">포볼</div>
<div class="c th k" style="left:493.30px;top:621px;height:20px;line-height:20px">삼진</div>
<div class="c th k" style="left:527.20px;top:621px;height:20px;line-height:20px">자책점</div>
<div class="c th k" style="left:561.20px;top:621px;height:20px;line-height:20px">방어율</div>
<div class="c th k" style="left:594.70px;top:621px;height:20px;line-height:20px">상대팀</div>
<div class="c" style="left:356.50px;top:642.00px;height:17.67px;line-height:17.67px">09,18</div>
<div class="c" style="left:391.80px;top:642.00px;height:17.67px;line-height:17.67px">7</div>
<div class="c" style="left:425.80px;top:642.00px;height:17.67px;line-height:17.67px">0</div>
<div class="c" style="left:459.30px;top:642.00px;height:17.67px;line-height:17.67px">2</div>
<div class="c" style="left:493.30px;top:642.00px;height:17.67px;line-height:17.67px">7</div>
<div class="c" style="left:527.20px;top:642.00px;height:17.67px;line-height:17.67px">3</div>
<div class="c" style="left:561.20px;top:642.00px;height:17.67px;line-height:17.67px">4,50</div>
<div class="ln" style="left:358px;top:659.67px"></div>
<div class="c" style="left:356.50px;top:660.67px;height:17.67px;line-height:17.67px">09,12</div>
<div class="c" style="left:391.80px;top:660.67px;height:17.67px;line-height:17.67px">3</div>
<div class="c" style="left:425.80px;top:660.67px;height:17.67px;line-height:17.67px">0</div>
<div class="c" style="left:459.30px;top:660.67px;height:17.67px;line-height:17.67px">3</div>
<div class="c" style="left:493.30px;top:660.67px;height:17.67px;line-height:17.67px">9</div>
<div class="c" style="left:527.20px;top:660.67px;height:17.67px;line-height:17.67px">0</div>
<div class="c" style="left:561.20px;top:660.67px;height:17.67px;line-height:17.67px">0,00</div>
<div class="ln" style="left:358px;top:678.34px"></div>
<div class="c" style="left:356.50px;top:679.34px;height:17.67px;line-height:17.67px">07,18</div>
<div class="c" style="left:391.80px;top:679.34px;height:17.67px;line-height:17.67px">9</div>
<div class="c" style="left:425.80px;top:679.34px;height:17.67px;line-height:17.67px">2</div>
<div class="c" style="left:459.30px;top:679.34px;height:17.67px;line-height:17.67px">2</div>
<div class="c" style="left:493.30px;top:679.34px;height:17.67px;line-height:17.67px">2</div>
<div class="c" style="left:527.20px;top:679.34px;height:17.67px;line-height:17.67px">8</div>
<div class="c" style="left:561.20px;top:679.34px;height:17.67px;line-height:17.67px">36,00</div>
<div class="ln" style="left:358px;top:697.01px"></div>
<div class="c" style="left:356.50px;top:698.01px;height:17.67px;line-height:17.67px">05,31</div>
<div class="c" style="left:391.80px;top:698.01px;height:17.67px;line-height:17.67px">5</div>
<div class="c" style="left:425.80px;top:698.01px;height:17.67px;line-height:17.67px">1</div>
<div class="c" style="left:459.30px;top:698.01px;height:17.67px;line-height:17.67px">3</div>
<div class="c" style="left:493.30px;top:698.01px;height:17.67px;line-height:17.67px">13</div>
<div class="c" style="left:527.20px;top:698.01px;height:17.67px;line-height:17.67px">2</div>
<div class="c" style="left:561.20px;top:698.01px;height:17.67px;line-height:17.67px">2,57</div>
<div class="ln" style="left:358px;top:715.68px"></div>
<div class="avg" style="left:358px;top:716.68px;height:19.00px"></div>
<div class="c k" style="left:356.50px;top:716.68px;height:19.00px;line-height:19.00px">평균</div>
<div class="c" style="left:391.80px;top:716.68px;height:19.00px;line-height:19.00px">6,00</div>
<div class="c" style="left:425.80px;top:716.68px;height:19.00px;line-height:19.00px">0,75</div>
<div class="c" style="left:459.30px;top:716.68px;height:19.00px;line-height:19.00px">2,50</div>
<div class="c" style="left:493.30px;top:716.68px;height:19.00px;line-height:19.00px">7,75</div>
<div class="c" style="left:527.20px;top:716.68px;height:19.00px;line-height:19.00px">3,25</div>
<div class="c" style="left:561.20px;top:716.68px;height:19.00px;line-height:19.00px">5,57</div>
<div class="c" style="left:594.70px;top:716.68px;height:19.00px;line-height:19.00px">·</div>
<div class="hl" style="top:601px"><span>선발투수 상대 성적</span></div>
<div class="hr" style="top:601px"><span>선발투수 상대 성적</span></div>
<svg class="lg" style="left:154px;top:608px" width="13" height="6" viewBox="0 0 13 6"><ellipse cx="6.5" cy="3" rx="6.1" ry="2.2" transform="rotate(-9 6.5 3)" fill="#1f47a8"/><path d="M1.8 3.9 Q6 2.2 11.2 2.3" stroke="#7d98d8" stroke-width="0.6" fill="none"/></svg><div class="tn" style="left:171px;top:604px">이호<small>*</small></div>
<div class="tn tr" style="right:170px;top:604px">류현<small>*</small></div><svg class="lg" style="left:484px;top:606px" width="14" height="10" viewBox="0 0 14 10"><circle cx="6.5" cy="3.6" r="2.7" fill="#f26a48"/><path d="M5.2 3.2 Q6.5 5.2 8 3.0" stroke="#fff" stroke-width="0.7" fill="none" opacity=".8"/><text x="7" y="9.3" text-anchor="middle" font-size="3.6" font-family="Liberation Sans" fill="#555" font-weight="bold">Hanwha</text></svg>
<svg class="wmk" width="650" height="754" viewBox="0 0 650 754"><g transform="rotate(-33 52.5 140.5)"><text x="55.5" y="119.5" class="w1">토토박사</text><text x="52.5" y="140.5" class="w2">totobaksa.com</text></g><g transform="rotate(-33 241 140.5)"><text x="244" y="119.5" class="w1">토토박사</text><text x="241" y="140.5" class="w2">totobaksa.com</text></g><g transform="rotate(-33 424 140.5)"><text x="427" y="119.5" class="w1">토토박사</text><text x="424" y="140.5" class="w2">totobaksa.com</text></g><g transform="rotate(-33 606.5 140.5)"><text x="609.5" y="119.5" class="w1">토토박사</text><text x="606.5" y="140.5" class="w2">totobaksa.com</text></g><g transform="rotate(-33 52.5 327)"><text x="55.5" y="306" class="w1">토토박사</text><text x="52.5" y="327" class="w2">totobaksa.com</text></g><g transform="rotate(-33 241 327)"><text x="244" y="306" class="w1">토토박사</text><text x="241" y="327" class="w2">totobaksa.com</text></g><g transform="rotate(-33 424 327)"><text x="427" y="306" class="w1">토토박사</text><text x="424" y="327" class="w2">totobaksa.com</text></g><g transform="rotate(-33 606.5 327)"><text x="609.5" y="306" class="w1">토토박사</text><text x="606.5" y="327" class="w2">totobaksa.com</text></g><g transform="rotate(-33 52.5 513)"><text x="55.5" y="492" class="w1">토토박사</text><text x="52.5" y="513" class="w2">totobaksa.com</text></g><g transform="rotate(-33 241 513)"><text x="244" y="492" class="w1">토토박사</text><text x="241" y="513" class="w2">totobaksa.com</text></g><g transform="rotate(-33 424 513)"><text x="427" y="492" class="w1">토토박사</text><text x="424" y="513" class="w2">totobaksa.com</text></g><g transform="rotate(-33 606.5 513)"><text x="609.5" y="492" class="w1">토토박사</text><text x="606.5" y="513" class="w2">totobaksa.com</text></g><g transform="rotate(-33 52.5 697)"><text x="55.5" y="676" class="w1">토토박사</text><text x="52.5" y="697" class="w2">totobaksa.com</text></g><g transform="rotate(-33 241 697)"><text x="244" y="676" class="w1">토토박사</text><text x="241" y="697" class="w2">totobaksa.com</text></g><g transform="rotate(-33 424 697)"><text x="427" y="676" class="w1">토토박사</text><text x="424" y="697" class="w2">totobaksa.com</text></g><g transform="rotate(-33 606.5 697)"><text x="609.5" y="676" class="w1">토토박사</text><text x="606.5" y="697" class="w2">totobaksa.com</text></g></svg>
<div class="vs" style="top:84px">VS</div>
<div class="vs" style="top:289px">VS</div>
<div class="vs" style="top:494px">VS</div>
<div class="vs" style="top:661px">VS</div>
</body></html>
